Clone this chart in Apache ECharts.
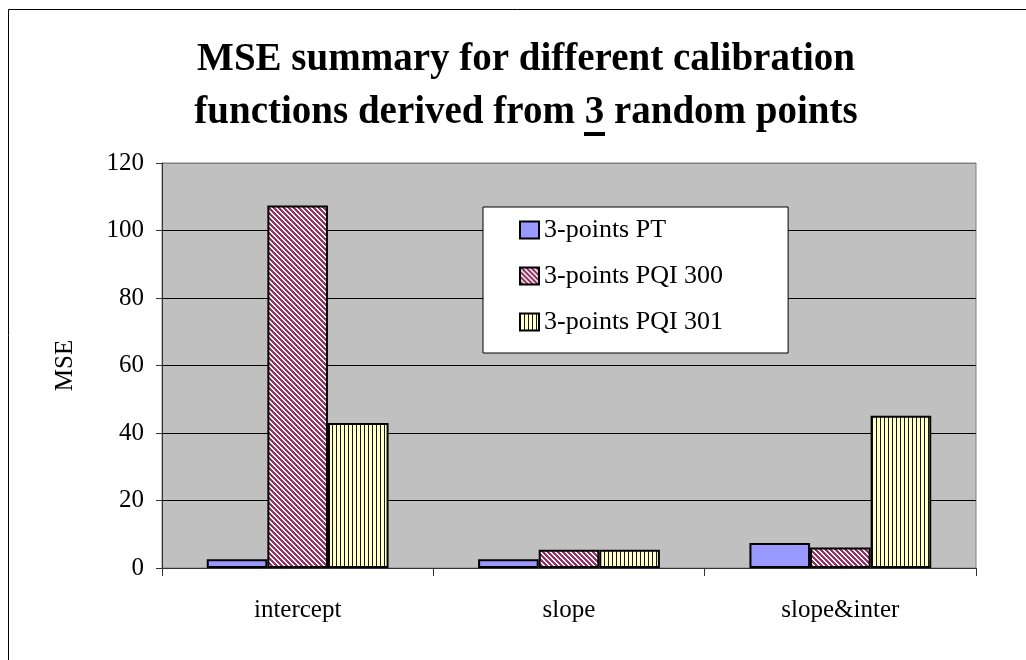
<!DOCTYPE html>
<html>
<head>
<meta charset="utf-8">
<title>MSE summary</title>
<script src="https://cdn.jsdelivr.net/npm/echarts@6/dist/echarts.min.js"></script>
<style>
  html, body { margin: 0; padding: 0; background: #fff; }
  #chart { width: 1026px; height: 660px; }
</style>
</head>
<body>
<div id="chart"></div>
<script>
// Calibration function types on the x axis
const categories = ['intercept', 'slope', 'slope&inter'];
// MSE per calibration type
const seriesNames = ['3-points PT', '3-points PQI 300', '3-points PQI 301'];
const ptValues = [2.6, 2.6, 7.4];
const pqi300Values = [107.4, 5.4, 6.1];
const pqi301Values = [43.0, 5.4, 45.1];
// Value axis
const yTicks = [0, 20, 40, 60, 80, 100, 120];

const FONT = '"Liberation Serif", "Times New Roman", serif';

// Diagonal maroon hatch on white
function diagonalHatch() {
  const n = 5;
  const c = document.createElement('canvas');
  c.width = n; c.height = n;
  const ctx = c.getContext('2d');
  ctx.fillStyle = '#ffffff';
  ctx.fillRect(0, 0, n, n);
  ctx.fillStyle = '#993366';
  for (let y = 0; y < n; y++) {
    for (let x = 0; x < n; x++) {
      if ((((x - y) % n) + n) % n < 3) ctx.fillRect(x, y, 1, 1);
    }
  }
  return c;
}

// Vertical dark lines on pale yellow
function verticalHatch() {
  const c = document.createElement('canvas');
  c.width = 4; c.height = 4;
  const ctx = c.getContext('2d');
  ctx.fillStyle = '#ffffcc';
  ctx.fillRect(0, 0, 4, 4);
  ctx.fillStyle = '#1a1a00';
  ctx.fillRect(0, 0, 1, 4);
  return c;
}

const chart = echarts.init(document.getElementById('chart'), null, { renderer: 'canvas' });

const barBorder = { borderColor: '#000', borderWidth: 2 };

chart.setOption({
  animation: false,
  backgroundColor: '#ffffff',
  title: {
    text: 'MSE summary for different calibration\nfunctions derived from 3 random points',
    left: 526,
    top: 33,
    padding: 0,
    textAlign: 'center',
    textStyle: {
      fontFamily: FONT,
      fontWeight: 'bold',
      fontSize: 39,
      lineHeight: 53,
      color: '#000'
    }
  },
  legend: {
    orient: 'vertical',
    left: 483,
    top: 207,
    padding: [10, 65, 18, 36],
    itemGap: 20,
    itemWidth: 19,
    itemHeight: 17,
    icon: 'rect',
    backgroundColor: '#ffffff',
    borderColor: '#000',
    borderWidth: 1,
    data: seriesNames,
    textStyle: { fontFamily: FONT, fontSize: 26, color: '#000' }
  },
  grid: {
    left: 162,
    right: 50,
    top: 163,
    bottom: 92,
    show: true,
    backgroundColor: '#c0c0c0',
    borderColor: '#808080',
    borderWidth: 1
  },
  xAxis: {
    type: 'category',
    data: categories,
    axisLine: { lineStyle: { color: '#333', width: 1 } },
    axisTick: { show: true, length: 8, lineStyle: { color: '#333' } },
    axisLabel: { margin: 30, fontFamily: FONT, fontSize: 25, color: '#000' },
    splitLine: { show: false }
  },
  yAxis: {
    type: 'value',
    min: yTicks[0],
    max: yTicks[yTicks.length - 1],
    interval: yTicks[1] - yTicks[0],
    name: 'MSE',
    nameLocation: 'middle',
    nameGap: 84,
    nameRotate: 90,
    nameTextStyle: { fontFamily: FONT, fontSize: 25, color: '#000' },
    axisLine: { show: true, lineStyle: { color: '#333', width: 1 } },
    axisTick: { show: true, length: 6, lineStyle: { color: '#333' } },
    axisLabel: { margin: 18, fontFamily: FONT, fontSize: 25, color: '#000' },
    splitLine: { show: true, lineStyle: { color: ['#000', '#000', '#000', '#000', '#000', '#000', '#808080'], width: 1 } }
  },
  series: [
    {
      name: seriesNames[0],
      type: 'bar',
      data: ptValues,
      barGap: '0%',
      barCategoryGap: '33%',
      itemStyle: Object.assign({ color: '#9999ff' }, barBorder)
    },
    {
      name: seriesNames[1],
      type: 'bar',
      data: pqi300Values,
      barGap: '0%',
      barCategoryGap: '33%',
      itemStyle: Object.assign({ color: { image: diagonalHatch(), repeat: 'repeat' } }, barBorder)
    },
    {
      name: seriesNames[2],
      type: 'bar',
      data: pqi301Values,
      barGap: '0%',
      barCategoryGap: '33%',
      itemStyle: Object.assign({ color: { image: verticalHatch(), repeat: 'repeat' } }, barBorder)
    }
  ],
  graphic: [
    {
      // outer chart frame
      type: 'rect',
      silent: true,
      z: -1,
      shape: { x: 8.5, y: 9.5, width: 1200, height: 900 },
      style: { fill: null, stroke: '#000', lineWidth: 1 }
    },
    {
      // underline under the "3" in the title
      type: 'rect',
      silent: true,
      shape: { x: 584, y: 132, width: 21, height: 4 },
      style: { fill: '#000' }
    }
  ]
});
</script>
</body>
</html>
